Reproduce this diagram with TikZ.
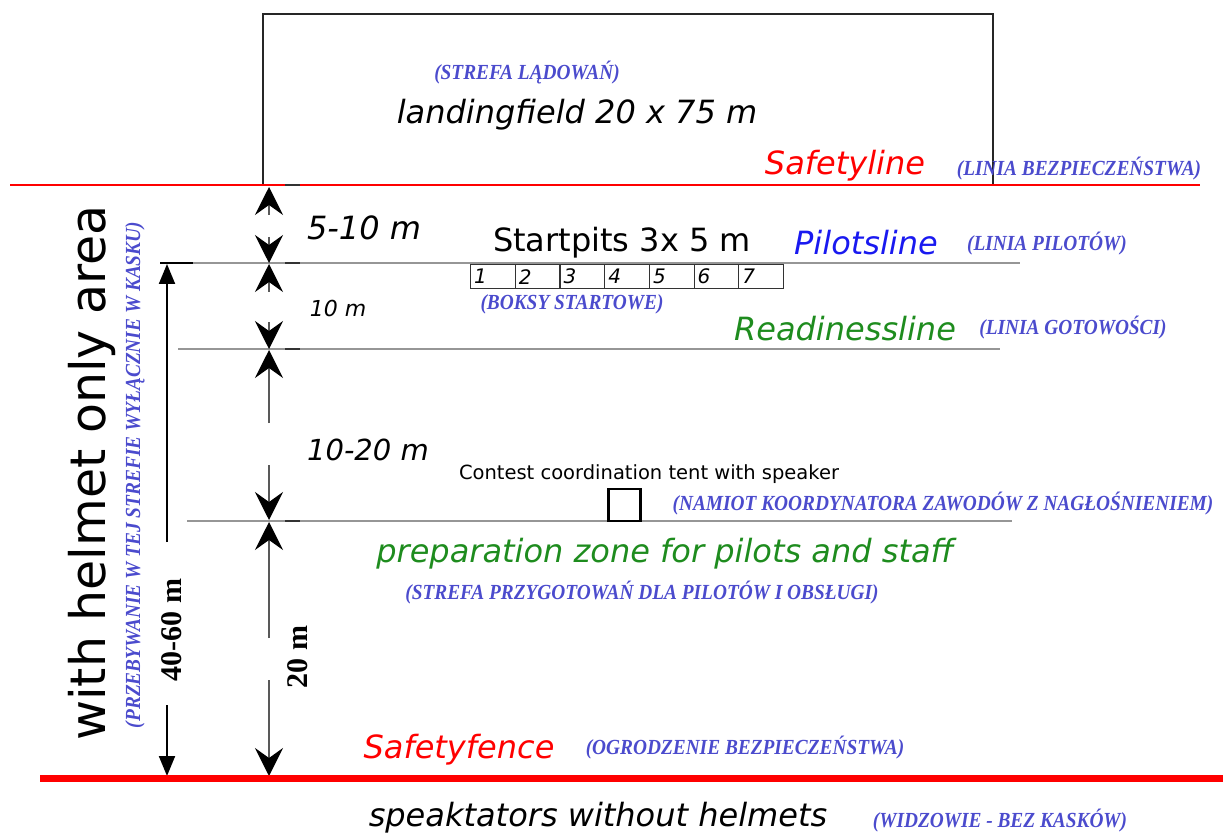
\documentclass[tikz,border=0pt]{standalone}
\usepackage{fontspec}
\usetikzlibrary{arrows.meta}
\newfontfamily\dvs{DejaVu Sans}
\newfontfamily\lser{Liberation Serif}
\newfontfamily\lserc{Liberation Serif}[FakeStretch=0.9]
\definecolor{lblue}{RGB}{75,75,205}
\definecolor{pblue}{RGB}{25,25,240}
\definecolor{rgreen}{RGB}{30,140,30}
\definecolor{sred}{RGB}{255,0,0}
\definecolor{lgray}{RGB}{150,150,150}
\tikzset{
  lbl/.style={font=\lserc\bfseries\itshape\fontsize{21.5}{24}\selectfont, text=lblue, inner sep=0pt},
  bigit/.style={font=\dvs\itshape\fontsize{32}{38}\selectfont, inner sep=0pt},
  bigup/.style={font=\dvs\fontsize{32}{38}\selectfont, inner sep=0pt},
  dimtxt/.style={font=\lser\bfseries\fontsize{30}{34}\selectfont, inner sep=0pt, rotate=90},
  zoneline/.style={draw=lgray, line width=1.5pt},
  tickmark/.style={draw=black!80, line width=1.8pt},
  dimarr/.style={draw=black!65, line width=1.4pt, -{Stealth[length=28pt,width=28pt,inset=10pt,color=black]}},
  bigarr/.style={draw=black, line width=2pt, -{Triangle[length=20pt,width=16pt]}},
  pitbox/.style={draw=black!80, line width=1.2pt, minimum width=44.7pt, minimum height=24pt, inner sep=0pt, anchor=north west},
  pitnum/.style={font=\dvs\itshape\fontsize{20}{22}\selectfont, inner sep=0pt, anchor=west},
}
\begin{document}
\begin{tikzpicture}[x=1pt,y=-1pt]
\useasboundingbox (0,0) rectangle (1223,834);
% landing field
\draw[black!85, line width=1.2pt] (263,14) rectangle (993,185);
\node[lbl] (strefaL) at (527,73) {(STREFA LĄDOWAŃ)};
\node[bigit] (landing) at (577,115) {landingfield 20 x 75 m};
% safety line
\coordinate (slA) at (10,185);
\coordinate (slB) at (1200,185);
\draw[sred, line width=1.5pt] (slA) -- (slB);
\node[bigit, text=sred] (safetyline) at (845,166) {Safetyline};
\node[lbl] (safetylinePL) at (1079,169) {(LINIA BEZPIECZEŃSTWA)};
% horizontal zone lines
\coordinate (plA) at (193,263); \coordinate (plB) at (1020,263);
\coordinate (rlA) at (178,349); \coordinate (rlB) at (1000,349);
\coordinate (prA) at (187,521); \coordinate (prB) at (1012,521);
\draw[zoneline] (plA) -- (plB);
\draw[zoneline] (rlA) -- (rlB);
\draw[zoneline] (prA) -- (prB);
\foreach \yy/\nm in {185/a,263/b,349/c,521/d}{
  \coordinate (tk\nm1) at (285,\yy); \coordinate (tk\nm2) at (300,\yy);
  \draw[tickmark] (tk\nm1) -- (tk\nm2);
}
% left big dimension
\coordinate (ltA) at (160,263); \coordinate (ltB) at (193,263);
\draw[black, line width=1.6pt] (ltA) -- (ltB);
\coordinate (lb1) at (167,542); \coordinate (lb1t) at (167,264);
\coordinate (lb2) at (167,705); \coordinate (lb2t) at (167,776);
\draw[bigarr] (lb1) -- (lb1t);
\draw[bigarr] (lb2) -- (lb2t);
\node[dimtxt] (d4060) at (172,630) {40-60 m};
% dimension arrows at x=269
\coordinate (a1s) at (269,215); \coordinate (a1t) at (269,187);
\coordinate (a2s) at (269,237); \coordinate (a2t) at (269,263);
\coordinate (a3s) at (269,292); \coordinate (a3t) at (269,264);
\coordinate (a4s) at (269,322); \coordinate (a4t) at (269,349);
\coordinate (a5s) at (269,423); \coordinate (a5t) at (269,350);
\coordinate (a6s) at (269,465); \coordinate (a6t) at (269,520);
\coordinate (a7s) at (269,638); \coordinate (a7t) at (269,522);
\coordinate (a8s) at (269,680); \coordinate (a8t) at (269,776);
\foreach \i in {1,...,8}{ \draw[dimarr] (a\i s) -- (a\i t); }
\node[dimtxt] (d20) at (298,657) {20 m};
\node[bigit] (d510) at (364,228) {5-10 m};
\node[font=\dvs\itshape\fontsize{22}{26}\selectfont, inner sep=0pt] (d10) at (338,308) {10 m};
\node[font=\dvs\itshape\fontsize{29}{34}\selectfont, inner sep=0pt] (d1020) at (368,450) {10-20 m};
% startpits
\node[bigup] (startpits) at (622,243) {Startpits 3x 5 m};
\node[bigit, text=pblue] (pilotsline) at (866,243) {Pilotsline};
\node[lbl] (pilotslinePL) at (1047,244) {(LINIA PILOTÓW)};
\foreach \i in {1,...,7}{
  \node[pitbox] (box\i) at ({470+44.7*(\i-1)},264) {};
  \node[pitnum] (num\i) at ([xshift=4pt]box\i.west) {\i};
}
\node[lbl] (boksy) at (572,304) {(BOKSY STARTOWE)};
% readiness
\node[bigit, text=rgreen] (readiness) at (845,329) {Readinessline};
\node[lbl] (readinessPL) at (1073,328) {(LINIA GOTOWOŚCI)};
% tent
\node[font=\dvs\fontsize{19.5}{22}\selectfont, inner sep=0pt] (tenttxt) at (649,474) {Contest coordination tent with speaker};
\node[draw=black, line width=2.2pt, minimum width=32pt, minimum height=32pt, inner sep=0pt] (tent) at (624.5,505) {};
\node[lbl] (tentPL) at (943,504) {(NAMIOT KOORDYNATORA ZAWODÓW Z NAGŁOŚNIENIEM)};
% preparation zone
\node[bigit, text=rgreen] (prep) at (665,554) {preparation zone for pilots and staff};
\node[lbl] (prepPL) at (642,593) {(STREFA PRZYGOTOWAŃ DLA PILOTÓW I OBSŁUGI)};
% helmet area
\node[font=\dvs\fontsize{49}{56}\selectfont, inner sep=0pt, rotate=90] (helmet) at (92,473) {with helmet only area};
\node[lbl, rotate=90] (helmetPL) at (135,475) {(PRZEBYWANIE W TEJ STREFIE WYŁĄCZNIE W KASKU)};
% safety fence
\coordinate (sfA) at (40,778); \coordinate (sfB) at (1223,778);
\draw[sred, line width=7pt] (sfA) -- (sfB);
\node[bigit, text=sred] (fence) at (459,750) {Safetyfence};
\node[lbl] (fencePL) at (745,748) {(OGRODZENIE BEZPIECZEŃSTWA)};
% spectators
\node[bigit] (spect) at (598,818) {speaktators without helmets};
\node[lbl] (spectPL) at (1000,821) {(WIDZOWIE - BEZ KASKÓW)};
\end{tikzpicture}
\end{document}
